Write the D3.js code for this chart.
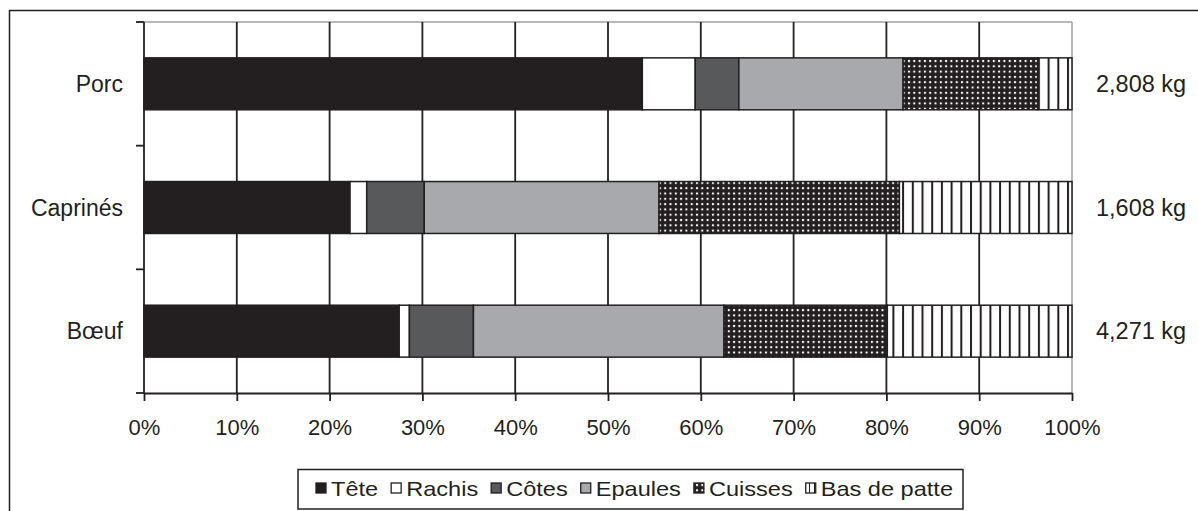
<!DOCTYPE html>
<html><head><meta charset="utf-8">
<script src="https://cdn.jsdelivr.net/npm/d3@7"></script>
<style>
html,body{margin:0;padding:0;background:#fff;}
svg text{font-family:"Liberation Sans",Arial,sans-serif;fill:#231f20;}
</style></head>
<body><svg id="c" width="1198" height="511"></svg>
<script>
const categories = ["Porc","Caprinés","Bœuf"];
const parts = ["Tête","Rachis","Côtes","Epaules","Cuisses","Bas de patte"];
const tete      = [53.7, 22.2, 27.5];
const rachis    = [5.7, 1.8, 1.1];
const cotes     = [4.7, 6.2, 6.9];
const epaules   = [17.7, 25.3, 27.0];
const cuisses   = [14.5, 25.9, 17.6];
const basPatte  = [3.7, 18.6, 19.9];
const weights   = ["2,808 kg","1,608 kg","4,271 kg"];
const tickValues = [0,10,20,30,40,50,60,70,80,90,100];
const tickLabels = ["0%","10%","20%","30%","40%","50%","60%","70%","80%","90%","100%"];

const series = [tete, rachis, cotes, epaules, cuisses, basPatte];
const dark = "#231f20";
const fills = [dark, "#ffffff", "#58595b", "#a7a9ac", "url(#dots)", "url(#stripes)"];

const svg = d3.select("#c");
const defs = svg.append("defs");
const pd = defs.append("pattern").attr("id","dots").attr("patternUnits","userSpaceOnUse")
  .attr("width",5.3).attr("height",5.3);
pd.append("rect").attr("width",5.3).attr("height",5.3).attr("fill",dark);
pd.append("rect").attr("x",1.7).attr("y",1.7).attr("width",2).attr("height",2).attr("fill","#fff");
const ps = defs.append("pattern").attr("id","stripes").attr("patternUnits","userSpaceOnUse")
  .attr("width",9.7).attr("height",10);
ps.append("rect").attr("width",9.7).attr("height",10).attr("fill","#fff");
ps.append("rect").attr("x",0).attr("width",2).attr("height",10).attr("fill",dark);
const pl = defs.append("pattern").attr("id","stripesL").attr("patternUnits","userSpaceOnUse")
  .attr("width",5).attr("height",10);
pl.append("rect").attr("width",5).attr("height",10).attr("fill","#fff");
pl.append("rect").attr("x",4).attr("width",1.6).attr("height",10).attr("fill",dark);
const legendFills = fills.slice(0,5).concat(["url(#stripesL)"]);

// outer frame
svg.append("rect").attr("x",9.5).attr("y",10.5).attr("width",1300).attr("height",600)
  .attr("fill","none").attr("stroke",dark).attr("stroke-width",1.5);

const x = d3.scaleLinear().domain([0,100]).range([144,1072]);
const y = d3.scaleBand().domain(categories).range([22,393]).padding(0);
const barH = y.bandwidth()*0.42;

// plot area border (top/right light gray)
svg.append("line").attr("x1",x(0)).attr("x2",x(100)).attr("y1",22).attr("y2",22)
  .attr("stroke","#a0a0a0").attr("stroke-width",1.5);
svg.append("line").attr("x1",x(100)).attr("x2",x(100)).attr("y1",22).attr("y2",393)
  .attr("stroke","#a0a0a0").attr("stroke-width",1.5);

// gridlines
svg.append("g").selectAll("line").data(tickValues.slice(1,-1)).join("line")
  .attr("x1",d=>x(d)).attr("x2",d=>x(d)).attr("y1",22).attr("y2",393)
  .attr("stroke",dark).attr("stroke-width",1.8);

// bars
const stackData = categories.map((c,i)=>{
  let acc=0; const segs=[];
  series.forEach((s,j)=>{segs.push({cat:c,k:j,x0:acc,x1:acc+s[i]}); acc+=s[i];});
  return segs;
}).flat();
svg.append("g").selectAll("rect").data(stackData).join("rect")
  .attr("x",d=>x(d.x0)).attr("width",d=>x(d.x1)-x(d.x0))
  .attr("y",d=>y(d.cat)+y.bandwidth()/2-barH/2).attr("height",barH)
  .attr("fill",d=>fills[d.k]).attr("stroke",dark).attr("stroke-width",1.5);

// axes
const xAxis = d3.axisBottom(x).tickValues(tickValues).tickFormat((d,i)=>tickLabels[i])
  .tickSize(8).tickSizeOuter(0).tickPadding(18);
const gx = svg.append("g").attr("transform","translate(0,393)").call(xAxis);
gx.select(".domain").attr("stroke",dark).attr("stroke-width",1.8);
gx.selectAll(".tick line").attr("stroke",dark).attr("stroke-width",1.8);
gx.selectAll(".tick text").attr("font-size",22).attr("font-family","Liberation Sans, Arial, sans-serif").attr("fill",dark);

// y axis line and ticks at band boundaries
svg.append("line").attr("x1",x(0)).attr("x2",x(0)).attr("y1",22).attr("y2",393)
  .attr("stroke",dark).attr("stroke-width",1.8);
const bounds = categories.map(c=>y(c)).concat([y(categories[categories.length-1])+y.bandwidth()]);
svg.append("g").selectAll("line").data(bounds).join("line")
  .attr("x1",x(0)-8).attr("x2",x(0)).attr("y1",d=>d).attr("y2",d=>d)
  .attr("stroke",dark).attr("stroke-width",1.8);

// category labels
svg.append("g").selectAll("text").data(categories).join("text")
  .attr("x",123).attr("y",d=>y(d)+y.bandwidth()/2).attr("dy","0.35em")
  .attr("text-anchor","end").attr("font-size",23).text(d=>d);

// weight labels
svg.append("g").selectAll("text").data(categories).join("text")
  .attr("x",1096).attr("y",d=>y(d)+y.bandwidth()/2).attr("dy","0.35em")
  .attr("font-size",23.5).text((d,i)=>weights[i]);

// legend
svg.append("rect").attr("x",298).attr("y",469.5).attr("width",665).attr("height",39.5)
  .attr("fill","#fff").attr("stroke",dark).attr("stroke-width",1.5);
const lg = svg.append("g");
const sx = 1.15;
let lx = 316;
parts.forEach((p,j)=>{
  lg.append("rect").attr("x",lx).attr("y",483).attr("width",10).attr("height",10)
    .attr("fill",legendFills[j]).attr("stroke",dark).attr("stroke-width",1.3);
  const t = lg.append("text").attr("transform",`translate(${lx+15},496) scale(${sx},1)`)
    .attr("font-size",20.5).text(p);
  lx += 15 + t.node().getComputedTextLength()*sx + 13;
});
</script></body></html>
